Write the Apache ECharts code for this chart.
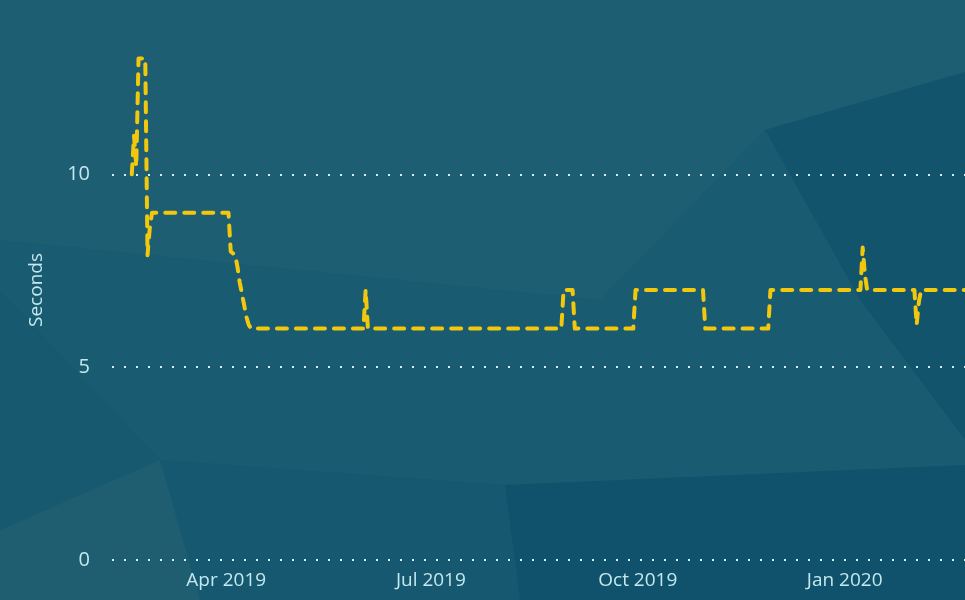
<!DOCTYPE html>
<html>
<head>
<meta charset="utf-8">
<script src="https://cdn.jsdelivr.net/npm/echarts@6/dist/echarts.min.js"></script>
<style>
    html, body { margin: 0; padding: 0; background: #1b5b70; }
    #main { width: 965px; height: 600px; }
</style>
</head>
<body>
<div id="main"></div>
<script>
// response time (days where the value changes)
var dayList = [
    '2019-02-18', '2019-02-19', '2019-02-20', '2019-02-21', '2019-02-24', '2019-02-25', '2019-02-26', '2019-02-27',
    '2019-04-02', '2019-04-03', '2019-04-05', '2019-04-06', '2019-04-07', '2019-04-08', '2019-04-09',
    '2019-04-10', '2019-04-11', '2019-04-12',
    '2019-06-01', '2019-06-02', '2019-06-03',
    '2019-08-28', '2019-08-29', '2019-09-02', '2019-09-03',
    '2019-09-29', '2019-09-30', '2019-10-30', '2019-10-31',
    '2019-11-28', '2019-11-29',
    '2020-01-08', '2020-01-09', '2020-01-10', '2020-01-11',
    '2020-02-01', '2020-02-02', '2020-02-03', '2020-02-04', '2020-02-24'
];
var secondsList = [
    10, 11, 10.2, 13, 13, 7.9, 8.6, 9,
    9, 8, 7.9, 7.6, 7.2, 6.9, 6.6,
    6.3, 6.1, 6,
    6, 7, 6,
    6, 7, 7, 6,
    6, 7, 7, 6,
    6, 7,
    7, 8.1, 7.4, 7,
    7, 6.1, 6.7, 7, 7
];

// x axis labels
var tickDays = ['2019-04-01', '2019-07-01', '2019-10-01', '2020-01-01'];
var tickNames = ['Apr 2019', 'Jul 2019', 'Oct 2019', 'Jan 2020'];
// y axis labels
var yTicks = [0, 5, 10];

function toTime(s) {
    var p = s.split('-');
    return new Date(+p[0], +p[1] - 1, +p[2]).getTime();
}

var HOUR = 3600 * 1000;
var tickTimes = tickDays.map(toTime);

var lineData = [];
for (var i = 0; i < dayList.length; i++) {
    lineData.push([toTime(dayList[i]), secondsList[i]]);
}

var myChart = echarts.init(document.getElementById('main'));
var option = {
    backgroundColor: '#1b5c71',
    textStyle: { fontFamily: 'Open Sans' },
    // low poly background
    graphic: [
        { type: 'polygon', z: -10, silent: true, shape: { points: [[0, 0], [965, 0], [965, 72], [765, 130], [600, 300], [0, 240]] }, style: { fill: '#1d5e73' } },
        { type: 'polygon', z: -10, silent: true, shape: { points: [[765, 130], [965, 72], [965, 440], [860, 300]] }, style: { fill: '#12546c' } },
        { type: 'polygon', z: -10, silent: true, shape: { points: [[600, 300], [765, 130], [860, 300], [965, 440], [965, 465], [505, 485], [160, 460], [0, 290], [0, 240]] }, style: { fill: '#195b71' } },
        { type: 'polygon', z: -10, silent: true, shape: { points: [[160, 460], [505, 485], [520, 600], [200, 600]] }, style: { fill: '#15586f' } },
        { type: 'polygon', z: -10, silent: true, shape: { points: [[505, 485], [965, 465], [965, 600], [520, 600]] }, style: { fill: '#10526b' } },
        { type: 'polygon', z: -10, silent: true, shape: { points: [[0, 290], [160, 460], [0, 530]] }, style: { fill: '#17596f' } },
        { type: 'polygon', z: -10, silent: true, shape: { points: [[0, 530], [160, 460], [200, 600], [0, 600]] }, style: { fill: '#1f5d71' } }
    ],
    grid: {
        left: 112,
        right: 0,
        top: 20,
        bottom: 40
    },
    xAxis: {
        // timestamps on a linear axis, so the quarter labels can be placed exactly
        type: 'value',
        min: toTime('2019-02-09') + 5 * HOUR,
        max: toTime('2020-02-23') + 12 * HOUR,
        axisLine: { show: false },
        axisTick: { show: false },
        splitLine: { show: false },
        axisLabel: {
            customValues: tickTimes,
            color: '#c4e8ef',
            fontSize: 19,
            margin: 11,
            formatter: function (value) {
                var idx = tickTimes.indexOf(value);
                return idx < 0 ? '' : tickNames[idx];
            }
        }
    },
    yAxis: {
        type: 'value',
        min: 0,
        max: 14,
        interval: 5,
        name: 'Seconds',
        nameLocation: 'middle',
        nameGap: 66,
        nameTextStyle: { color: '#c4e8ef', fontSize: 19 },
        axisLine: { show: false },
        axisTick: { show: false, customValues: yTicks },
        axisLabel: {
            customValues: yTicks,
            color: '#c4e8ef',
            fontSize: 20,
            margin: 22
        },
        splitLine: {
            show: true,
            lineStyle: { color: '#d4f0f5', width: 2, type: [2, 10] }
        }
    },
    series: [
        {
            name: 'Seconds',
            type: 'line',
            showSymbol: false,
            data: lineData,
            lineStyle: {
                color: '#f2c80f',
                width: 4,
                type: [10, 9],
                cap: 'round',
                join: 'round'
            }
        }
    ]
};
myChart.setOption(option);
</script>
</body>
</html>
